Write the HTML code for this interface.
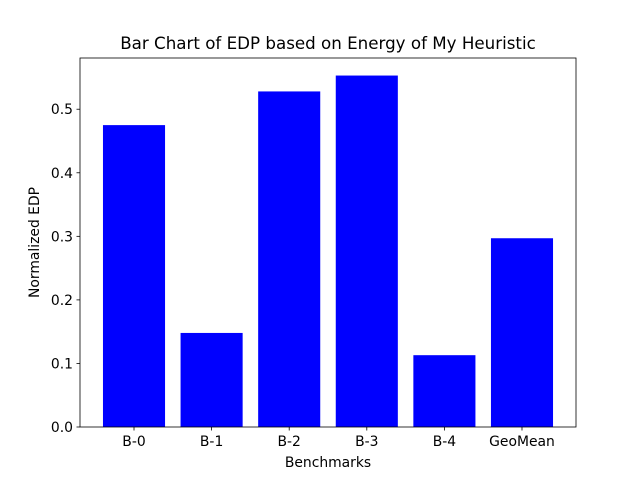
<!DOCTYPE html>
<html><head><meta charset="utf-8"><style>body{margin:0;background:#fff}svg{display:block}text{font-family:"DejaVu Sans","Liberation Sans",sans-serif;fill:#000}</style></head>
<body>
<svg id="chart" width="640" height="480"></svg>
<script>
const categories = ["B-0","B-1","B-2","B-3","B-4","GeoMean"];
const values = [0.475,0.148,0.528,0.553,0.113,0.297];
const yTicks = [0.0,0.1,0.2,0.3,0.4,0.5];
const yTickLabels = ["0.0","0.1","0.2","0.3","0.4","0.5"];

const NS="http://www.w3.org/2000/svg";
const svg=document.getElementById('chart');
const L=80,R=576,T=58,B=427;
const yMax=0.5806;
function y(v){return B-(v/yMax)*(B-T);}
const n=categories.length;
const xMin=-0.696, xMax=n-1+0.696;
function x(i){return L+(i-xMin)/(xMax-xMin)*(R-L);}
function mk(tag,attrs,parent){const e=document.createElementNS(NS,tag);for(const k in attrs)e.setAttribute(k,attrs[k]);(parent||svg).appendChild(e);return e;}

const bw=(x(0.4)-x(-0.4));
categories.forEach((c,i)=>{
  const r=mk('rect',{x:x(i)-bw/2,y:y(values[i]),width:bw,height:B-y(values[i]),fill:'#0000ff'});
  
  
  mk('line',{x1:x(i),x2:x(i),y1:B,y2:B+3.5,stroke:'#000','stroke-width':0.8});
  const t=mk('text',{x:x(i),y:B+19,'text-anchor':'middle','font-size':13.9});
  t.textContent=c;
  
  
});
yTicks.forEach((v,i)=>{
  mk('line',{x1:L-3.5,x2:L,y1:y(v),y2:y(v),stroke:'#000','stroke-width':0.8});
  const t=mk('text',{x:L-7,y:y(v)+5,'text-anchor':'end','font-size':13.9});
  t.textContent=yTickLabels[i];
  
  
});
const fr=mk('rect',{x:L,y:T,width:R-L,height:B-T,fill:'none',stroke:'#000','stroke-width':0.8});


const ti=mk('text',{x:(L+R)/2,y:T-9,'text-anchor':'middle','font-size':16.7});
ti.textContent='Bar Chart of EDP based on Energy of My Heuristic';


const xl=mk('text',{x:(L+R)/2,y:467,'text-anchor':'middle','font-size':13.9});
xl.textContent='Benchmarks';


const yl=mk('text',{x:0,y:0,'text-anchor':'middle','font-size':13.9,transform:'translate(39,'+((T+B)/2)+') rotate(-90)'});
yl.textContent='Normalized EDP';


</script>
</body></html>
